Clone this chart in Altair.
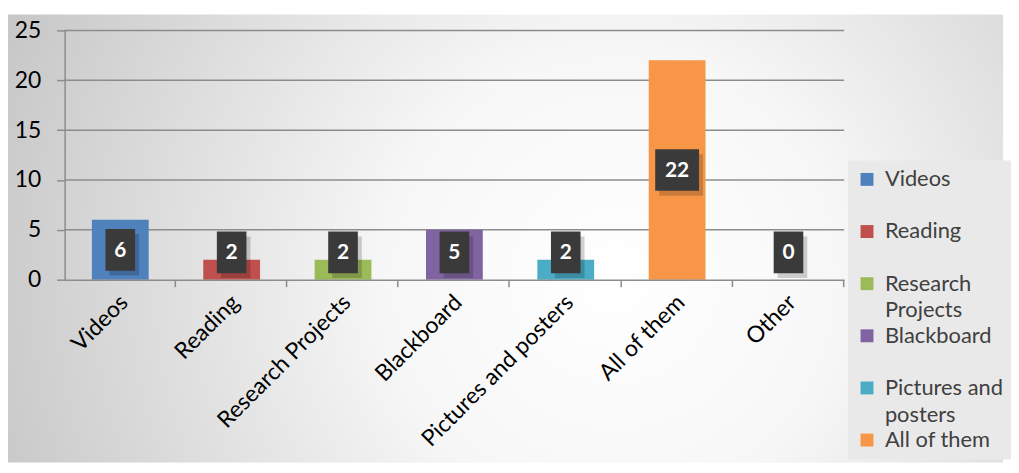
import altair as alt
import pandas as pd

categories = ["Videos", "Reading", "Research Projects", "Blackboard",
              "Pictures and posters", "All of them", "Other"]
values = [6, 2, 2, 5, 2, 22, 0]
colors = ["#4f81bd", "#c0504d", "#9bbb59", "#8064a2", "#4bacc6", "#f79646", "#2c4d75"]
legend_items = categories[:6]
y_ticks = [0, 5, 10, 15, 20, 25]

FONT = "Lato"
df = pd.DataFrame({"category": categories, "value": values})
grid_df = pd.DataFrame({"tick": y_ticks[1:]})

bg = alt.Chart(pd.DataFrame({"k": [0]})).mark_rect(
    clip=False,
    fill=alt.Gradient(gradient="radial", x1=0.61, y1=0.54, r1=0, x2=0.61, y2=0.54, r2=0.76,
                      stops=[alt.GradientStop(offset=0, color="#ffffff"),
                             alt.GradientStop(offset=0.3, color="#f7f7f7"),
                             alt.GradientStop(offset=1, color="#bcbcbc")]),
).encode(x=alt.value(-57), x2=alt.value(945), y=alt.value(-16), y2=alt.value(435))

y_scale = alt.Scale(domain=[0, 25], nice=False)
y_axis = alt.Axis(values=y_ticks, labelFontSize=23, labelFont=FONT,
                  labelColor="#000000", labelPadding=16, tickSize=8,
                  tickColor="#8c8c8c", tickWidth=1.5, domainColor="#8c8c8c",
                  domainWidth=1.5, grid=False, zindex=1, title=None)

grid = alt.Chart(grid_df).mark_rule(color="#8c8c8c", strokeWidth=1.5).encode(
    y=alt.Y("tick:Q", scale=y_scale, axis=y_axis, title=None))

x_enc = alt.X("category:N", sort=categories, title=None,
              scale=alt.Scale(paddingInner=0.49, paddingOuter=0.245),
              axis=alt.Axis(labelAngle=315, labelAlign="right", labelBaseline="middle",
                            labelFontSize=23, labelFont=FONT, labelColor="#000000",
                            labelPadding=12, labelOffset=4, labelLimit=400,
                            bandPosition=1.47,
                            tickSize=7, tickColor="#8c8c8c", tickWidth=1.5,
                            domainColor="#8c8c8c", domainWidth=1.5, grid=False, zindex=1))
y_enc = alt.Y("value:Q", title=None, scale=y_scale, axis=y_axis)

bars = alt.Chart(df).mark_bar().encode(
    x=x_enc, y=y_enc,
    color=alt.Color("category:N", sort=categories,
                    scale=alt.Scale(domain=categories, range=colors),
                    legend=alt.Legend(
                        values=legend_items, title=None, orient="none",
                        legendX=789, legendY=131, direction="vertical",
                        symbolType="square", symbolSize=169, symbolStrokeWidth=0,
                        symbolOpacity=1, labelFontSize=22, labelFont=FONT,
                        labelColor="#404040", labelBaseline="middle", labelLimit=300,
                        labelExpr="datum.label == 'Research Projects' ? ['Research', 'Projects'] : datum.label == 'Pictures and posters' ? ['Pictures and', 'posters'] : datum.label",
                        fillColor="#e9e9e9", padding=8, rowPadding=3.5, gridAlign="all",
                        labelOffset=7)),
)

lab = alt.Chart(df).transform_calculate(
    pos="max(datum.value / 2, 2.75)",
    nd="toString(length(toString(datum.value)))",
)
shape_scale = alt.Scale(domain=["1", "2"],
                        range=["M-0.71,-1H0.71V1H-0.71Z", "M-1.05,-1H1.05V1H-1.05Z"])

shadow = lab.mark_point(filled=True, color="#000000", opacity=0.18, size=1764,
                        xOffset=4, yOffset=5, strokeWidth=0).encode(
    x=alt.X("category:N", sort=categories), y=alt.Y("pos:Q"),
    shape=alt.Shape("nd:N", scale=shape_scale, legend=None))
boxes = lab.mark_point(filled=True, color="#3a3a3a", opacity=1, size=1764,
                       strokeWidth=0).encode(
    x=alt.X("category:N", sort=categories), y=alt.Y("pos:Q"),
    shape=alt.Shape("nd:N", scale=shape_scale, legend=None))
texts = lab.mark_text(color="#ffffff", font=FONT, fontSize=21, fontWeight="bold",
                      baseline="middle", dy=1).encode(
    x=alt.X("category:N", sort=categories), y=alt.Y("pos:Q"),
    text=alt.Text("value:Q"))

chart = alt.layer(bg, grid, bars, shadow, boxes, texts).properties(
    width=785, height=251,
    padding={"left": 0, "top": 5, "right": 0, "bottom": 0},
    background="#ffffff",
).configure(style={"guide-label": {"lineHeight": 27}}).configure_view(strokeWidth=0)

chart.save("out.html", embed_options={"renderer": "svg", "actions": False})
